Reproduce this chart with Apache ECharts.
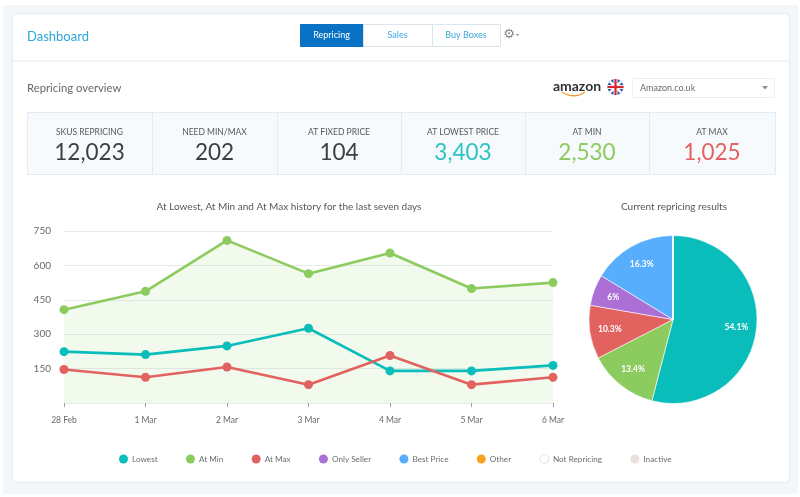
<!DOCTYPE html>
<html>
<head>
<meta charset="utf-8">
<style>
html, body { margin: 0; padding: 0; background: #fff; }
#chart { width: 800px; height: 497px; }
</style>
<script src="https://cdn.jsdelivr.net/npm/echarts@6/dist/echarts.min.js"></script>
</head>
<body>
<div id="chart"></div>
<script>
var days = ['28 Feb', '1 Mar', '2 Mar', '3 Mar', '4 Mar', '5 Mar', '6 Mar'];
var lowest = [224, 211, 249, 326, 140, 140, 164];
var atMin = [407, 487, 709, 564, 654, 499, 525];
var atMax = [146, 112, 157, 80, 207, 80, 112];
var yTicks = [0, 150, 300, 450, 600, 750];

var pieNames = ['Lowest', 'At Min', 'At Max', 'Only Seller', 'Best Price', 'Other', 'Not Repricing', 'Inactive'];
var pieValues = [54.1, 13.4, 10.3, 6, 16.3, 0, 0, 0];

var kpiLabels = ['SKUS REPRICING', 'NEED MIN/MAX', 'AT FIXED PRICE', 'AT LOWEST PRICE', 'AT MIN', 'AT MAX'];
var kpiValues = ['12,023', '202', '104', '3,403', '2,530', '1,025'];
var tabNames = ['Repricing', 'Sales', 'Buy Boxes'];

var FONT = 'Lato, "Open Sans", sans-serif';
var TEAL = '#08bdba', GREEN = '#8ccb5e', RED = '#e2625f';
var sliceColors = [TEAL, GREEN, RED, '#ab6fd6', '#56aefc', '#f7a11e', '#ffffff', '#eadfdc'];
var kpiColors = ['#3c3f42', '#3c3f42', '#3c3f42', '#2cc3c6', '#8ccb5e', '#e2625f'];

var pieX = 673, pieY = 319.5;

function txt(x, y, text, size, color, align, weight) {
    return {
        type: 'text', x: x, y: y, silent: true,
        style: {
            text: text, fontSize: size, fill: color, fontFamily: FONT,
            align: align || 'left', verticalAlign: 'middle', fontWeight: weight || 'normal'
        }
    };
}
function box(x, y, w, h, fill, stroke, r) {
    return {
        type: 'rect', silent: true,
        shape: { x: x + 0.5, y: y + 0.5, width: w, height: h, r: r || 0 },
        style: { fill: fill, stroke: stroke, lineWidth: 1 }
    };
}
function seg(x1, y1, x2, y2, color, width) {
    return {
        type: 'line', silent: true,
        shape: { x1: x1, y1: y1, x2: x2, y2: y2 },
        style: { stroke: color, lineWidth: width || 1 }
    };
}

// page chrome
var chrome = [
    box(3, 5, 794, 488, '#f3f7fa', '#f3f7fa'),
    box(12, 13, 777, 469, '#ffffff', '#e4ebf1', 5),
    seg(12, 61, 789, 61, '#e6edf3'),
    txt(27, 37, 'Dashboard', 13, '#2ba6dc'),
    txt(27, 88, 'Repricing overview', 11.3, '#666a6e')
];

// tabs
var tabEdges = [300, 363, 432, 500];
tabNames.forEach(function (name, i) {
    var x0 = tabEdges[i], x1 = tabEdges[i + 1];
    chrome.push(box(x0, 24, x1 - x0, 22, i === 0 ? '#0a72c4' : '#ffffff', i === 0 ? '#0a72c4' : '#dbe5ec'));
    chrome.push(txt((x0 + x1) / 2, 35, name, 9, i === 0 ? '#ffffff' : '#39a8de', 'center'));
});
chrome.push(txt(509, 35, '\u2699', 13, '#808488', 'center'));
chrome[chrome.length - 1].style.fontFamily = 'DejaVu Sans';
chrome.push({
    type: 'polygon', silent: true,
    shape: { points: [[516, 34], [519, 34], [517.5, 36]] },
    style: { fill: '#808488' }
});

// amazon logo + flag + dropdown
chrome.push(txt(577, 86, 'amazon', 14, '#2f3235', 'center', 'bold'));
chrome.push({
    type: 'bezierCurve', silent: true,
    shape: { x1: 562, y1: 92, cpx1: 570, cpy1: 97, x2: 585, y2: 92, cpx2: 578, cpy2: 97 },
    style: { stroke: '#f0a030', lineWidth: 1.4, fill: 'none' }
});
chrome.push({ type: 'circle', silent: true, shape: { cx: 615.5, cy: 87, r: 8 }, style: { fill: '#2a5cab' } });
chrome.push(seg(609.8, 81.3, 621.2, 92.7, '#ffffff', 2.4));
chrome.push(seg(609.8, 92.7, 621.2, 81.3, '#ffffff', 2.4));
chrome.push(seg(607.5, 87, 623.5, 87, '#ffffff', 4));
chrome.push(seg(615.5, 79, 615.5, 95, '#ffffff', 4));
chrome.push(seg(607.5, 87, 623.5, 87, '#d8252e', 2.2));
chrome.push(seg(615.5, 79, 615.5, 95, '#d8252e', 2.2));
chrome.push(box(632, 78, 142, 19, '#ffffff', '#e8eef3', 3));
chrome.push(txt(640, 88, 'Amazon.co.uk', 9, '#6a6e72'));
chrome.push({
    type: 'polygon', silent: true,
    shape: { points: [[762, 86], [768, 86], [765, 89.5]] },
    style: { fill: '#8a8e92' }
});

// KPI strip
var kpiEdges = [27, 152, 277, 401, 525, 649, 775];
chrome.push(box(27, 112, 748, 62, '#f7fafd', '#e3ebf2'));
kpiLabels.forEach(function (label, i) {
    var cx = (kpiEdges[i] + kpiEdges[i + 1]) / 2;
    if (i > 0) chrome.push(seg(kpiEdges[i] + 0.5, 112, kpiEdges[i] + 0.5, 174, '#e3ebf2'));
    chrome.push(txt(cx, 132.5, label, 8.5, '#55595d', 'center'));
    chrome.push(txt(cx, 153, kpiValues[i], 22.5, kpiColors[i], 'center'));
});

var legendData = pieNames.map(function (name, i) {
    var item = { name: name, itemStyle: { color: sliceColors[i], borderWidth: 0 } };
    if (name === 'Not Repricing') item.itemStyle = { color: '#ffffff', borderColor: '#dfe3e6', borderWidth: 1 };
    return item;
});

var myChart = echarts.init(document.getElementById('chart'), null, { renderer: 'canvas' });

var lineBase = {
    type: 'line',
    symbol: 'circle',
    symbolSize: 9,
    lineStyle: { width: 2.6 },
    animation: false
};

var option = {
    animation: false,
    backgroundColor: '#fff',
    textStyle: { fontFamily: FONT },
    graphic: { elements: chrome },
    title: [
        {
            text: 'At Lowest, At Min and At Max history for the last seven days',
            left: 284, top: 197, textAlign: 'center',
            textStyle: { fontSize: 10, fontWeight: 'normal', color: '#55595d', fontFamily: FONT }
        },
        {
            text: 'Current repricing results',
            left: 669, top: 197, textAlign: 'center',
            textStyle: { fontSize: 10, fontWeight: 'normal', color: '#55595d', fontFamily: FONT }
        }
    ],
    grid: { left: 64, right: 247, top: 231, height: 172 },
    xAxis: {
        type: 'category',
        data: days,
        boundaryGap: false,
        offset: 3,
        axisLine: { show: false },
        axisTick: { show: true, length: 4, lineStyle: { color: '#9a9ea2' } },
        axisLabel: { fontSize: 8.5, color: '#666a6e', margin: 10, fontFamily: FONT, showMinLabel: true, showMaxLabel: true, hideOverlap: false, interval: 0 }
    },
    yAxis: {
        type: 'value',
        min: yTicks[0],
        max: yTicks[yTicks.length - 1],
        interval: 150,
        axisLine: { show: false },
        axisTick: { show: false },
        splitLine: { lineStyle: { color: '#e6ebf0', width: 1 } },
        axisLabel: {
            fontSize: 10, color: '#666a6e', margin: 13, fontFamily: FONT,
            formatter: function (v) { return v === 0 ? '' : String(v); }
        }
    },
    legend: {
        data: legendData,
        icon: 'circle',
        itemWidth: 9,
        itemHeight: 9,
        itemGap: 28.3,
        left: 114,
        top: 449,
        textStyle: { fontSize: 8.2, color: '#6a6e72', fontFamily: FONT, padding: [0, 0, 0, -1] }
    },
    series: [
        Object.assign({}, lineBase, {
            name: 'At Min', data: atMin, z: 2,
            itemStyle: { color: GREEN },
            areaStyle: { color: 'rgba(140,203,94,0.16)' }
        }),
        Object.assign({}, lineBase, { name: 'Lowest', data: lowest, z: 3, itemStyle: { color: TEAL } }),
        Object.assign({}, lineBase, { name: 'At Max', data: atMax, z: 4, itemStyle: { color: RED } }),
        {
            type: 'pie',
            center: [pieX, pieY],
            radius: [0, 84],
            startAngle: 90,
            clockwise: true,
            animation: false,
            stillShowZeroSum: false,
            itemStyle: { borderColor: '#fff', borderWidth: 0.6 },
            label: {
                show: true,
                position: 'inside',
                fontSize: 8.5,
                fontWeight: 'bold',
                color: '#fff',
                fontFamily: FONT,
                formatter: function (p) { return p.value > 0 ? p.value + '%' : ''; }
            },
            // push the labels out towards the rim
            labelLayout: function (p) {
                var r = p.labelRect;
                return {
                    dx: (r.x + r.width / 2 - pieX) * 0.42,
                    dy: (r.y + r.height / 2 - pieY) * 0.42
                };
            },
            data: pieNames.map(function (name, i) {
                return { name: name, value: pieValues[i], itemStyle: { color: sliceColors[i] } };
            })
        }
    ]
};

myChart.setOption(option);
</script>
</body>
</html>
